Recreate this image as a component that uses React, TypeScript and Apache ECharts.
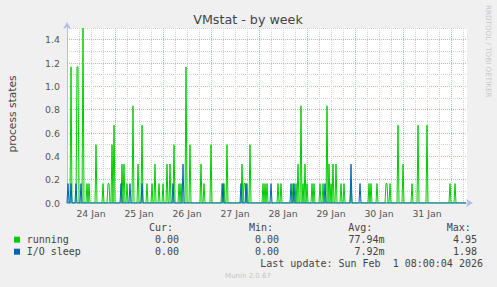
import React, { useEffect, useRef } from 'react';
import * as echarts from 'echarts';

// x axis: hours since Jan 24 00:00, one sample every 30 minutes
const slotHours = 0.5;
const slotCount = 400;
const dayLabels = ['24 Jan', '25 Jan', '26 Jan', '27 Jan', '28 Jan', '29 Jan', '30 Jan', '31 Jan'];

// [slot index, value] of non-zero samples (all other samples are 0)
const runningSpikes: [number, number][] = [
  [4, 1.1667], [10, 1.1667], [11, 1.1667], [16, 1.5], [20, 0.1667], [22, 0.1667],
  [29, 0.5], [36, 0.1667], [41, 0.1667], [42, 0.1667], [45, 0.5], [47, 0.6667],
  [55, 0.3333], [57, 0.3333], [60, 0.1667], [66, 0.8333], [71, 0.3333], [75, 0.6667],
  [80, 0.1667], [85, 0.1667], [88, 0.3333], [92, 0.1667], [96, 0.1667], [100, 0.3333],
  [103, 0.3333], [107, 0.5], [112, 0.1667], [114, 0.1667], [119, 1.1667], [123, 0.5],
  [134, 0.3333], [137, 0.1667], [144, 0.5], [155, 0.1667], [157, 0.1667], [160, 0.5],
  [175, 0.3333], [177, 0.1667], [178, 0.1667], [180, 0.1667], [183, 0.5],
  [196, 0.1667], [198, 0.1667], [200, 0.1667], [211, 0.1667], [214, 0.1667],
  [226, 0.1667], [229, 0.1667], [231, 0.3333], [234, 0.8333], [236, 0.1667], [238, 0.3333],
  [240, 0.1667], [245, 0.1667], [247, 0.1667], [253, 0.1667], [256, 0.1667], [260, 0.8333],
  [262, 0.3333], [264, 0.1667], [266, 0.3333], [269, 0.3333], [274, 0.1667], [277, 0.1667],
  [284, 0.1667], [302, 0.1667], [304, 0.1667], [310, 0.1667], [319, 0.1667], [320, 0.1667],
  [323, 0.1667], [331, 0.6667], [336, 0.3333], [345, 0.1667], [351, 0.6667], [360, 0.6667],
  [383, 0.1667], [388, 0.1667],
];

const ioSleepSpikes: [number, number][] = [
  [1, 0.1667], [4, 0.1667], [9, 0.1667], [14, 0.1667], [54, 0.1667], [63, 0.1667],
  [75, 0.1667], [106, 0.1667], [116, 0.3333], [156, 0.1667], [174, 0.1667], [179, 0.1667],
  [204, 0.1667], [224, 0.1667], [227, 0.1667], [258, 0.1667], [284, 0.3333], [293, 0.1667],
];

const legendHeaders = ['Cur:', 'Min:', 'Avg:', 'Max:'];
const legendRows = [
  { name: 'running', color: '#00cc00', values: ['0.00', '0.00', '77.94m', '4.95'] },
  { name: 'I/O sleep', color: '#0066b3', values: ['0.00', '0.00', '7.92m', '1.98'] },
];
const lastUpdate = 'Last update: Sun Feb  1 08:00:04 2026';

function buildSeries(spikes: [number, number][]) {
  const m = new Map<number, number>(spikes);
  return Array.from({ length: slotCount }, (_, i) => [i * slotHours, m.get(i) ?? 0]);
}

const MONO = 'DejaVu Sans Mono';
const SANS = 'DejaVu Sans';
const TXT = '#444';

export default function App() {
  const ref = useRef<HTMLDivElement>(null);
  useEffect(() => {
    document.body.style.margin = '0';
    const chart = echarts.init(ref.current!, undefined, { renderer: 'svg' });
    const headerX = [149, 249, 348.3, 446.7];
    const valueRight = [179, 279, 384.5, 477];
    const graphic: any[] = [
      { type: 'text', x: 248, y: 19.5, style: { text: 'VMstat - by week', font: `12.7px "${SANS}"`, fill: TXT, textAlign: 'center', textVerticalAlign: 'middle' } },
      { type: 'text', x: 12, y: 114, rotation: Math.PI / 2, style: { text: 'process states', font: `10.7px "${SANS}"`, fill: TXT, textAlign: 'center', textVerticalAlign: 'middle' } },
      { type: 'text', x: 488.5, y: 5, rotation: -Math.PI / 2, style: { text: 'RRDTOOL / TOBI OETIKER', font: `7.2px "${SANS}"`, fill: '#c8c8c8', textAlign: 'left', textVerticalAlign: 'middle' } },
      { type: 'text', x: 248, y: 276, style: { text: 'Munin 2.0.67', font: `7px "${SANS}"`, fill: '#c4c4c4', textAlign: 'center', textVerticalAlign: 'middle' } },
      { type: 'text', x: 483, y: 263.5, style: { text: lastUpdate, font: `10px "${MONO}"`, fill: TXT, textAlign: 'right', textVerticalAlign: 'middle' } },
    ];
    legendHeaders.forEach((h, i) => {
      graphic.push({ type: 'text', x: headerX[i], y: 227.5, style: { text: h, font: `10px "${MONO}"`, fill: TXT, textAlign: 'left', textVerticalAlign: 'middle' } });
    });
    legendRows.forEach((row, r) => {
      const y = 239.7 + r * 12;
      graphic.push({ type: 'rect', shape: { x: 14, y: y - 3, width: 6, height: 6 }, style: { fill: row.color } });
      graphic.push({ type: 'text', x: 26.7, y, style: { text: row.name, font: `10px "${MONO}"`, fill: TXT, textAlign: 'left', textVerticalAlign: 'middle' } });
      row.values.forEach((v, i) => {
        graphic.push({ type: 'text', x: valueRight[i], y, style: { text: v, font: `10px "${MONO}"`, fill: TXT, textAlign: 'right', textVerticalAlign: 'middle' } });
      });
    });

    const axisColor = '#b4bcee';
    chart.setOption({
      animation: false,
      backgroundColor: '#f0f0f0',
      grid: { left: 67, right: 30, top: 28, bottom: 84, show: true, backgroundColor: '#ffffff', borderWidth: 0 },
      xAxis: [
        {
          type: 'value', min: 0, max: 200, interval: 6, position: 'bottom',
          axisLine: { show: true, lineStyle: { color: axisColor, width: 1 }, symbol: ['none', 'arrow'], symbolSize: [6, 7], symbolOffset: [0, 6] },
          axisTick: { show: false },
          axisLabel: {
            color: '#555', fontFamily: SANS, fontSize: 9.3, margin: 6,
            formatter: (v: number) => (v % 24 === 12 ? dayLabels[(v - 12) / 24] ?? '' : ''),
          },
          splitLine: { show: true, showMaxLine: false, showMinLine: false, lineStyle: { color: '#d2d2d2', type: [1, 1], width: 1 } },
        },
        {
          type: 'value', min: 0, max: 200, interval: 24, position: 'bottom',
          axisLine: { show: false }, axisTick: { show: false }, axisLabel: { show: false },
          splitLine: { show: true, showMaxLine: false, showMinLine: false, lineStyle: { color: '#eeaaaa', type: [1, 1], width: 1 } },
        },
      ],
      yAxis: [
        {
          type: 'value', min: 0, max: 1.5, interval: 0.1, position: 'left',
          axisLine: { show: true, lineStyle: { color: axisColor, width: 1 }, symbol: ['none', 'arrow'], symbolSize: [6, 7], symbolOffset: [0, 6] },
          axisTick: { show: false }, axisLabel: { show: false },
          splitLine: { show: true, showMinLine: false, lineStyle: { color: '#d2d2d2', type: [1, 1], width: 1 } },
        },
        {
          type: 'value', min: 0, max: 1.5, interval: 0.2, position: 'left',
          axisLine: { show: false }, axisTick: { show: false },
          axisLabel: { color: '#555', fontFamily: SANS, fontSize: 9.4, margin: 7, showMaxLabel: false, formatter: (v: number) => v.toFixed(1) },
          splitLine: { show: true, showMinLine: false, showMaxLine: false, lineStyle: { color: '#eeaaaa', type: [1, 1], width: 1 } },
        },
      ],
      series: [
        { name: 'running', type: 'line', xAxisIndex: 0, yAxisIndex: 0, data: buildSeries(runningSpikes), symbol: 'none', lineStyle: { color: '#00cc00', width: 1 }, itemStyle: { color: '#00cc00' }, z: 3 },
        { name: 'I/O sleep', type: 'line', xAxisIndex: 0, yAxisIndex: 0, data: buildSeries(ioSleepSpikes), symbol: 'none', lineStyle: { color: '#0066b3', width: 1 }, itemStyle: { color: '#0066b3' }, z: 4 },
      ],
      graphic,
    });
    return () => chart.dispose();
  }, []);
  return <div ref={ref} style={{ width: 497, height: 287 }} />;
}
